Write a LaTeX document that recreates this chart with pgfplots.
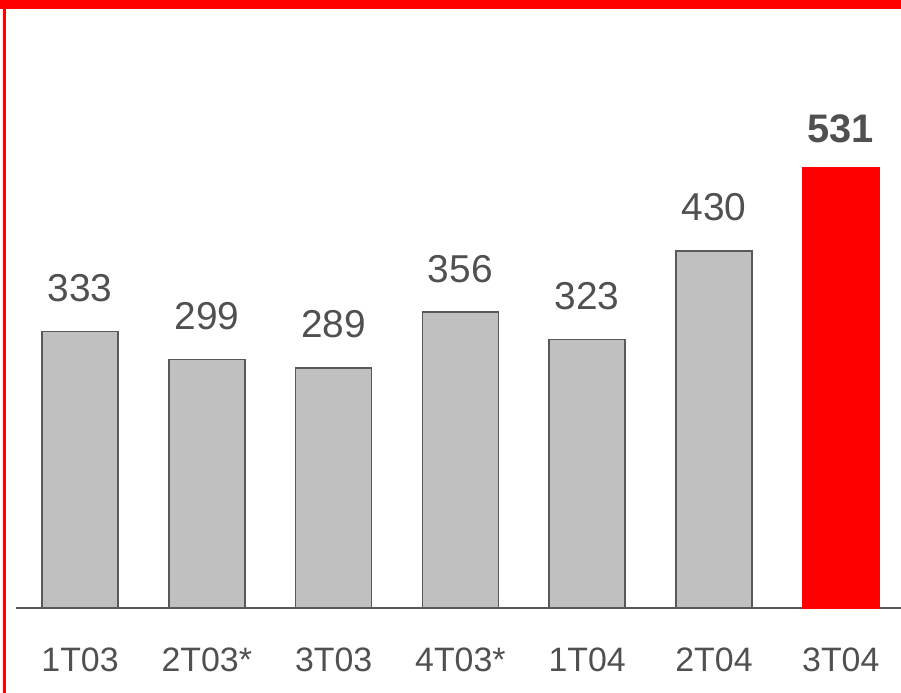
\documentclass[border=0pt]{standalone}
\usepackage{pgfplots}
\pgfplotsset{compat=1.18}
\usepackage{fontspec}
\setmainfont{Liberation Sans}
\definecolor{BarGray}{RGB}{192,192,192}
\definecolor{EdgeGray}{RGB}{89,89,89}
\definecolor{TextGray}{RGB}{80,80,80}
\definecolor{BrandRed}{RGB}{255,0,0}

\begin{document}
\begin{tikzpicture}
  % frame: red band on top, thin red rule on the left
  \fill[BrandRed] (0,684bp) rectangle (901bp,693bp);
  \fill[BrandRed] (3bp,0) rectangle (5.5bp,684bp);
  \begin{axis}[
      at={(16bp,85bp)}, anchor=south west,
      scale only axis, width=885bp, height=599bp,
      xmin=-0.505, xmax=6.475, ymin=0, ymax=721,
      axis x line*=bottom, axis y line=none,
      axis line style={EdgeGray, line width=1.6bp, -},
      xtick={0,...,6},
      xticklabels={1T03,2T03*,3T03,4T03*,1T04,2T04,3T04},
      major tick length=0pt,
      xticklabel style={anchor=center, yshift=-52bp, text=TextGray,
        font=\fontsize{34}{40}\selectfont},
      ytick=\empty,
      /pgf/number format/assume math mode=true,
      ybar, bar width=0.6, bar shift=0pt,
      nodes near coords,
      nodes near coords style={anchor=south, inner sep=0pt, yshift=29bp,
        text=TextGray, font=\fontsize{39}{44}\selectfont},
      clip=false,
    ]
    \addplot[fill=BarGray, draw=EdgeGray, line width=1.5bp] coordinates {
      (0,333) (1,299) (2,289) (3,356) (4,323) (5,430)
    };
    \addplot[fill=BrandRed, draw=BrandRed, line width=0.5bp,
      every node near coord/.append style={font=\fontsize{40}{44}\selectfont\bfseries, yshift=-5bp}]
      coordinates {(6,531)};
  \end{axis}
  \pgfresetboundingbox
  \path[use as bounding box] (0,0) rectangle (901bp,693bp);
\end{tikzpicture}
\end{document}
